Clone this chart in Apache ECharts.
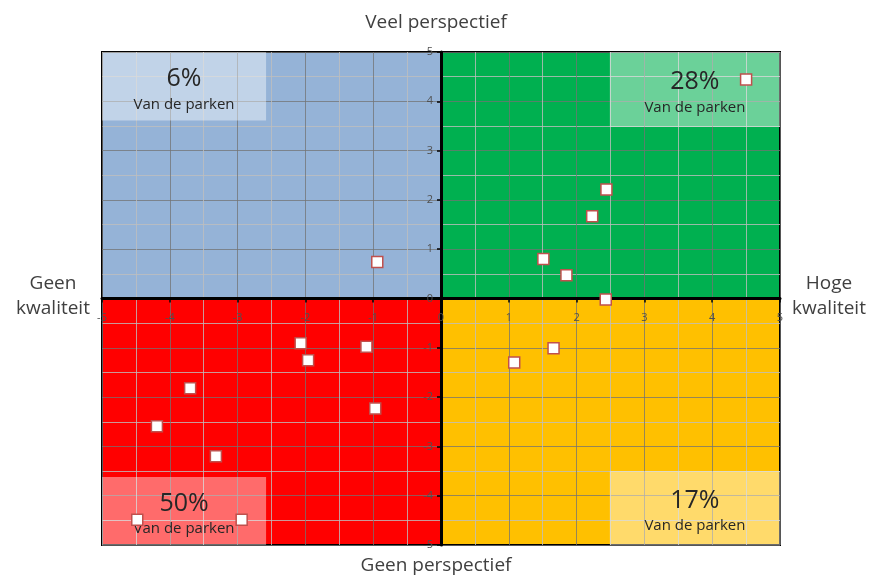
<!DOCTYPE html>
<html>
<head>
<meta charset="utf-8">
<script src="https://cdn.jsdelivr.net/npm/echarts@6/dist/echarts.min.js"></script>
<style>html,body{margin:0;padding:0;background:#fff}#c{width:872px;height:579px}</style>
</head>
<body>
<div id="c"></div>
<script>
// Park scores: x = kwaliteit, y = perspectief
const qualityScores     = [-0.94, 4.50, 2.44, 2.23, 1.51, 1.85, 2.43, -2.07, -1.96, -1.10, -3.70, -0.97, -4.19, -3.32, -4.48, -2.94, 1.66, 1.08];
const perspectiveScores = [ 0.74, 4.44, 2.21, 1.67, 0.80, 0.47, -0.02, -0.91, -1.25, -0.98, -1.82, -2.23, -2.59, -3.20, -4.49, -4.49, -1.01, -1.30];
const quadrantColors = ['#95b3d7', '#00b050', '#ff0000', '#ffc000'];
const quadrantBounds = [[-5, 0, 0, 5], [0, 0, 5, 5], [-5, -5, 0, 0], [0, -5, 5, 0]];
const shareLabels = ['6%', '28%', '50%', '17%'];
const shareBoxes = [[-5, 3.61, -2.58, 5], [2.49, 3.48, 5, 5], [-5, -5, -2.58, -3.62], [2.49, -5, 5, -3.5]];
const shareSub = 'Van de parken';
const axisTitles = { top: 'Veel perspectief', bottom: 'Geen perspectief', left: 'Geen\nkwaliteit', right: 'Hoge\nkwaliteit' };

const font = 'Open Sans';
const W = 872, H = 579;
const G = { left: 102, right: 92, top: 52, bottom: 34 };
const chart = echarts.init(document.getElementById('c'));
const points = qualityScores.map((x, i) => [x, perspectiveScores[i]]);

const axisCommon = {
  type: 'value', min: -5, max: 5, interval: 1,
  axisLine: { show: true, onZero: false, lineStyle: { color: '#000', width: 3 } },
  axisTick: { show: true, length: 4, lineStyle: { color: '#000', width: 1.5 } },
  axisLabel: { color: '#505050', fontSize: 11, fontFamily: font, showMinLabel: true, showMaxLabel: true },
  splitLine: { show: true, lineStyle: { color: 'rgba(115,115,115,0.75)', width: 1 } },
  minorTick: { show: false, splitNumber: 2 },
  minorSplitLine: { show: true, lineStyle: { color: 'rgba(190,190,190,0.8)', width: 1 } }
};
// place the axes through the middle of the plot (value 0 sits at the centre since min=-max)
const halfW = (W - G.left - G.right) / 2;
const halfH = (H - G.top - G.bottom) / 2;

chart.setOption({
  animation: false,
  backgroundColor: '#fff',
  grid: { left: G.left, right: G.right, top: G.top, bottom: G.bottom, show: true, borderColor: '#000', borderWidth: 2, backgroundColor: 'transparent', z: 0 },
  xAxis: Object.assign({}, axisCommon, { position: 'bottom', offset: -halfH, axisLabel: Object.assign({}, axisCommon.axisLabel, { margin: 14 }) }),
  yAxis: Object.assign({}, axisCommon, { position: 'left', offset: -halfW, axisLabel: Object.assign({}, axisCommon.axisLabel, { margin: 8 }) }),
  graphic: [
    { type: 'text', left: 'center', top: 13, style: { text: axisTitles.top, font: '19px "Open Sans"', fill: '#404040' } },
    { type: 'text', left: 'center', top: 556, style: { text: axisTitles.bottom, font: '19px "Open Sans"', fill: '#404040' } },
    { type: 'text', x: 53, y: 296, style: { text: axisTitles.left, font: '19px "Open Sans"', fill: '#404040', align: 'center', verticalAlign: 'middle', lineHeight: 25 } },
    { type: 'text', x: 829, y: 296, style: { text: axisTitles.right, font: '19px "Open Sans"', fill: '#404040', align: 'center', verticalAlign: 'middle', lineHeight: 25 } }
  ],
  series: [
    {
      type: 'scatter', z: -1, data: [], silent: true,
      markArea: {
        silent: true, z: -1,
        data: quadrantBounds.map((b, i) => [
          { coord: [b[0], b[1]], itemStyle: { color: quadrantColors[i], opacity: 1 } },
          { coord: [b[2], b[3]] }
        ])
      }
    },
    {
      type: 'scatter', z: 2, data: [], silent: true,
      markArea: {
        silent: true, z: 2,
        itemStyle: { color: 'rgba(255,255,255,0.42)' },
        label: {
          show: true, position: 'inside', offset: [0, 3], fontFamily: font, color: '#262626',
          rich: {
            p: { fontSize: 25, lineHeight: 30, fontFamily: font, color: '#262626' },
            s: { fontSize: 15, lineHeight: 21, fontFamily: font, color: '#262626' }
          }
        },
        data: shareBoxes.map((b, i) => [
          { coord: [b[0], b[1]], name: '{p|' + shareLabels[i] + '}\n{s|' + shareSub + '}' },
          { coord: [b[2], b[3]] }
        ])
      }
    },
    {
      type: 'scatter', z: 5, symbol: 'rect', symbolSize: 11,
      itemStyle: { color: '#ffffff', borderColor: '#c0504d', borderWidth: 1.5, opacity: 1 },
      data: points
    }
  ]
});
</script>
</body>
</html>
